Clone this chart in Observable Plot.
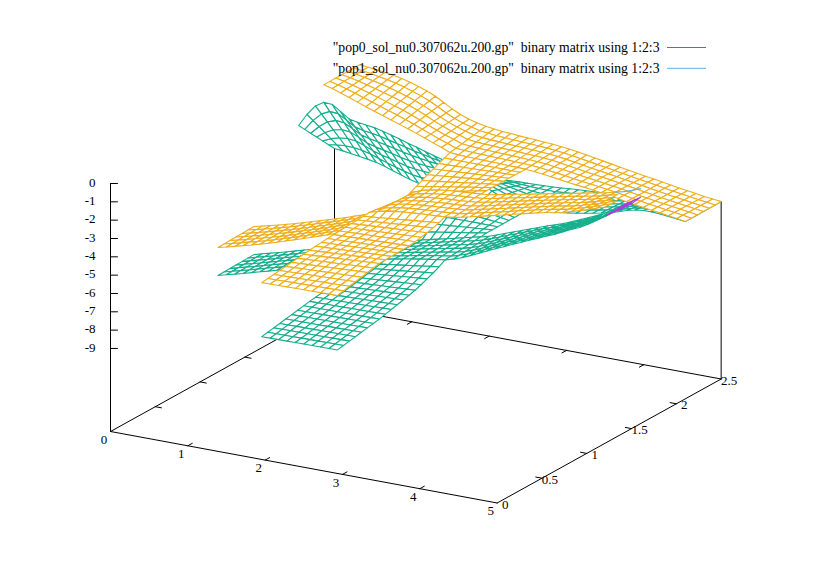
<!DOCTYPE html>
<html><head><meta charset="utf-8">
<style>html,body{margin:0;padding:0;background:#fff}svg text{white-space:pre}</style>
<script src="https://cdn.jsdelivr.net/npm/d3@7"></script>
<script src="https://cdn.jsdelivr.net/npm/@observablehq/plot@0.6"></script>
</head><body><div id="c"></div>
<script>
const legendLabels=['"pop0_sol_nu0.307062u.200.gp"  binary matrix using 1:2:3','"pop1_sol_nu0.307062u.200.gp"  binary matrix using 1:2:3'];
const xTicks=[0,1,2,3,4,5];
const yTicks=[0,0.5,1,1.5,2,2.5];
const zTicks=[0,-1,-2,-3,-4,-5,-6,-7,-8,-9];
const xStep=5/46;
const yNodes=[0,.0667,.1333,.2,.2667,.3333,.4,.4667,.5333,.6,.6667,.7333,.8,.8667,.9333,1,1.0667,1.1333,1.2,1.2667,1.3333,1.4,1.4667,1.5333,1.6,1.6625,1.725,1.7875,1.85,1.9125,1.975,2.0375,2.1,2.1667,2.2333,2.3,2.3667,2.4333,2.5];
// back band, y = 2.1 and y = 2.5 edges, one value per x node
const orangeBackNear=[null,null,null,-.04,-.16,-.32,-.48,-.65,-.82,-.98,-1.13,-1.28,-1.44,-1.59,-1.76,-1.93,-2.11,-2.28,-2.47,-2.51,-2.53,-2.54,-2.555,-2.56,-2.57,-2.59,-2.6,-2.62,-2.65,-2.71,-2.77,-2.83,-2.9,-2.96,-3.01,-3.07,-3.13,-3.2,-3.28,-3.37,-3.44,-3.51,-3.58,-3.64,-3.71,-3.78,-3.86];
const orangeBackFar=[null,null,null,-.03,-.08,-.13,-.2,-.27,-.36,-.48,-.63,-.79,-.99,-1.24,-1.51,-1.73,-1.9,-2.02,-2.12,-2.18,-2.23,-2.26,-2.3,-2.33,-2.36,-2.39,-2.42,-2.47,-2.52,-2.59,-2.67,-2.75,-2.83,-2.91,-2.99,-3.07,-3.15,-3.23,-3.3,-3.38,-3.46,-3.53,-3.6,-3.67,-3.74,-3.79,-3.85];
const greenBackNear=[-2.52,-1.82,-1.28,-1,-1.03,-1.34,-1.65,-1.75,-1.81,-1.87,-1.98,-2.11,-2.24,-2.38,-2.51,-2.65,-2.78,-2.92,-3.1,-3.3,-3.52,-3.73,-3.94,-4.15,-4.36,-4.57,-4.74,-4.87,-4.85,-4.78,-4.71,-4.64,-4.57,-4.51,-4.42,-4.34,-4.24,-4.14,-4,-3.85,-3.74,-3.68,-3.67,-3.7,-3.75,-3.8,-3.86];
const greenBackFar=[-4.86,-4.9,-4.97,-5.04,-5.11,-5.2,-5.33,-5.49,-5.64,-5.79,-5.91,-5.96,-5.96,-5.93,-5.86,-5.76,-5.65,-5.52,-5.38,-5.22,-5.03,-4.83,-4.81,-4.8,-4.79,-4.77,-4.75,-4.72,-4.68,-4.65,-4.62,-4.6,-4.55,-4.5,-4.45,-4.39,-4.34,-4.28,-4.23,-4.17,-4.11,-4.07,-4.02,-3.97,-3.93,-3.89,-3.85];
// middle band, y = 1.2 and y = 1.6 edges
const orangeMidNear=[-6.74,-6.63,-6.51,-6.38,-6.26,-6.13,-6,-5.86,-5.71,-5.56,-5.41,-5.26,-5.1,-4.95,-4.77,-4.53,-4.17,-3.72,-3.3,-3.16,-3.06,-2.99,-2.94,-2.9,-2.86,-2.83,-2.81,-2.77,-2.72,-2.63,-2.52,-2.41,-2.3,-2.19,-2.08,-1.96,-1.85,-1.74,-1.63,-1.52,-1.45,-1.35,-1.22,-1.08,-.94,-.78,-.63];
const orangeMidFar=[-6.68,-6.57,-6.45,-6.34,-6.21,-6.09,-5.95,-5.81,-5.67,-5.53,-5.39,-5.25,-5.09,-4.94,-4.79,-4.6,-4.38,-4.07,-3.6,-3.2,-3.01,-2.91,-2.82,-2.76,-2.72,-2.68,-2.65,-2.61,-2.57,-2.48,-2.39,-2.29,-2.2,-2.11,-2.01,-1.92,-1.82,-1.73,-1.64,-1.55,-1.45,-1.37,-1.27,-1.15,-1.04,-.89,-.71];
const greenMidNear=[-8.27,-8.14,-8.02,-7.9,-7.77,-7.64,-7.52,-7.39,-7.27,-7.14,-7.01,-6.87,-6.73,-6.59,-6.45,-6.31,-6.17,-6.04,-5.85,-5.75,-5.67,-5.59,-5.5,-5.42,-5.34,-5.26,-5.19,-5.13,-5,-4.84,-4.64,-4.43,-4.22,-4.01,-3.81,-3.6,-3.41,-3.21,-3.02,-2.82,-2.63,-2.41,-2.2,-2,-1.74,-1.38,-.96];
const greenMidFar=[-8.21,-8.08,-7.96,-7.84,-7.71,-7.58,-7.45,-7.32,-7.2,-7.08,-6.95,-6.82,-6.7,-6.57,-6.45,-6.32,-6.2,-6.07,-5.95,-5.84,-5.72,-5.61,-5.5,-5.39,-5.28,-5.17,-5.06,-4.95,-4.83,-4.67,-4.5,-4.33,-4.17,-4,-3.83,-3.67,-3.52,-3.36,-3.17,-2.97,-2.78,-2.58,-2.37,-2.15,-1.91,-1.6,-1.18];
// cross band x = 1.96 .. 2.93: front part (rows 0-18) and rear part (rows 24-32)
const orangeFrontL=[-3.88,-3.84,-3.8,-3.76,-3.72,-3.68,-3.64,-3.6,-3.56,-3.52,-3.49,-3.46,-3.43,-3.41,-3.39,-3.37,-3.35,-3.33,-3.3];
const orangeFrontR=[-3.82,-3.75,-3.68,-3.61,-3.54,-3.47,-3.4,-3.34,-3.32,-3.31,-3.3,-3.29,-3.28,-3.23,-3.17,-3.1,-3.02,-2.92,-2.75];
const greenFrontL=[-6.83,-6.77,-6.71,-6.65,-6.59,-6.53,-6.47,-6.41,-6.35,-6.3,-6.25,-6.2,-6.15,-6.1,-6.05,-6,-5.95,-5.9,-5.85];
const greenFrontR=[-6.79,-6.73,-6.67,-6.61,-6.55,-6.49,-6.43,-6.37,-6.29,-6.21,-6.13,-6.05,-5.97,-5.88,-5.76,-5.62,-5.48,-5.32,-5.1];
const orangeRearL=[-3.6,-3.45,-3.3,-3.15,-3,-2.86,-2.73,-2.6,-2.47];
const orangeRearR=[-2.6,-2.6,-2.6,-2.6,-2.6,-2.6,-2.6,-2.61,-2.62];
const greenRearL=[-5.95,-5.6,-5.25,-4.9,-4.55,-4.2,-3.85,-3.47,-3.1];
const greenRearR=[-4.91,-4.91,-4.91,-4.91,-4.91,-4.91,-4.91,-4.9,-4.9];

const GREEN="#14AE8C",ORANGE="#EDAE1A",PURPLE="#A83EDD",CYAN="#56B4E9";
const Z0=-13.53;
const sx=(x,y)=>110+77.33*x+89.6*y;
const sy=(x,y,z)=>431+14.3*x-49.6*y-(z-Z0)*18.33;
const crossI0=18,crossI1=27;

function cells(a){
  const m=new Map(),key=(i,j)=>i+","+j;
  const put=(i,j,z)=>{if(!m.has(key(i,j)))m.set(key(i,j),z)};
  const band=(lo,hi,j0,j1)=>{lo.forEach((v,i)=>{if(v==null)return;
    for(let j=j0;j<=j1;j++){const t=(yNodes[j]-yNodes[j0])/(yNodes[j1]-yNodes[j0]);put(i,j,v+(hi[i]-v)*t)}})};
  const cross=(l,r,j0)=>{l.forEach((v,k)=>{for(let i=crossI0;i<=crossI1;i++){
    put(i,j0+k,v+(r[k]-v)*(i-crossI0)/(crossI1-crossI0))}})};
  band(a.backNear,a.backFar,32,38);
  band(a.midNear,a.midFar,18,24);
  cross(a.frontL,a.frontR,0);
  cross(a.rearL,a.rearR,24);
  const out=[];
  for(let i=0;i<46;i++)for(let j=0;j<38;j++){
    const q=[[i,j],[i+1,j],[i+1,j+1],[i,j+1],[i,j]];
    if(!q.every(([a,b])=>m.has(key(a,b))))continue;
    const xm=(i+.5)*xStep,ym=(yNodes[j]+yNodes[j+1])/2;
    const pts=q.map(([a,b])=>({X:sx(a*xStep,yNodes[b]),Y:sy(a*xStep,yNodes[b],m.get(key(a,b)))}));
    out.push({id:i+"_"+j,i,j,depth:14.3*xm-49.6*ym,pts,cx:d3.mean(pts.slice(0,4),p=>p.X)});
  }
  out.sort((p,q)=>p.depth-q.depth);
  return out;
}
const flat=list=>list.flatMap(c=>c.pts.map(p=>({...p,id:c.id})));
const tipX=612;
const inTip=c=>c.j>=18&&c.j<24&&c.cx>tipX;

const G=cells({backNear:greenBackNear,backFar:greenBackFar,midNear:greenMidNear,midFar:greenMidFar,frontL:greenFrontL,frontR:greenFrontR,rearL:greenRearL,rearR:greenRearR});
const O=cells({backNear:orangeBackNear,backFar:orangeBackFar,midNear:orangeMidNear,midFar:orangeMidFar,frontL:orangeFrontL,frontR:orangeFrontR,rearL:orangeRearL,rearR:orangeRearR});
const cyanEdge=O.filter(c=>c.j===23&&c.cx>tipX-4).sort((a,b)=>a.i-b.i).flatMap(c=>[c.pts[3],c.pts[2]]);

const seg=(a,b)=>[{X:sx(a[0],a[1]),Y:sy(a[0],a[1],a[2])},{X:sx(b[0],b[1]),Y:sy(b[0],b[1],b[2])}];
const axisLines=[
 [[0,0,Z0],[5,0,Z0]],[[5,0,Z0],[5,2.5,Z0]],[[5,2.5,Z0],[0,2.5,Z0]],[[0,2.5,Z0],[0,0,Z0]],
 [[0,0,Z0],[0,0,0]],[[0,2.5,Z0],[0,2.5,greenBackFar[0]]],[[5,2.5,Z0],[5,2.5,orangeBackFar[46]]],
 ...xTicks.slice(1,5).flatMap(t=>[[[t,0,Z0],[t,.05,Z0]],[[t,2.5,Z0],[t,2.45,Z0]]]),
 ...yTicks.slice(1,5).flatMap(t=>[[[5,t,Z0],[4.92,t,Z0]],[[0,t,Z0],[.08,t,Z0]]])
].flatMap((s,k)=>seg(s[0],s[1]).map(p=>({...p,id:"a"+k})));
const zTickLines=zTicks.flatMap((t,k)=>[{X:sx(0,0),Y:sy(0,0,t),id:"z"+k},{X:sx(0,0)+7,Y:sy(0,0,t),id:"z"+k}]);
const tickFont={fontFamily:"Liberation Serif",fontSize:13,fill:"#000"};
const keyFont={fontFamily:"Liberation Serif",fontSize:13.7,fill:"#000"};
const xLabels=xTicks.map(t=>({t,X:sx(t,0)-6.5,Y:sy(t,0,Z0)+8}));
const yLabels=yTicks.map(t=>({t,X:sx(5,t)+8,Y:sy(5,t,Z0)+1.5}));
const zLabels=zTicks.map(t=>({t,X:95,Y:sy(0,0,t)-1}));
const legendRows=legendLabels.map((s,k)=>({s,Y:47+k*20.8}));

const meshLayer=(list,stroke,fill="#fff")=>Plot.line(flat(list),{x:"X",y:"Y",z:"id",stroke,fill,strokeWidth:1.1,curve:"linear"});
const chart=Plot.plot({
 width:830,height:583,margin:0,
 x:{domain:[0,830],range:[0,830],axis:null},
 y:{domain:[0,583],range:[0,583],axis:null},
 marks:[
  Plot.line(axisLines,{x:"X",y:"Y",z:"id",stroke:"#000",strokeWidth:1}),
  Plot.line(zTickLines,{x:"X",y:"Y",z:"id",stroke:"#000",strokeWidth:1}),
  meshLayer(G.filter(c=>!(inTip(c)&&c.j>=21)),GREEN),
  meshLayer(O.filter(c=>!inTip(c)),ORANGE),
  meshLayer(G.filter(c=>inTip(c)&&c.j>=21),PURPLE,"none"),
  Plot.line(cyanEdge,{x:"X",y:"Y",stroke:CYAN,strokeWidth:1.2}),
  Plot.text(xLabels,{x:"X",y:"Y",text:d=>String(d.t),...tickFont}),
  Plot.text(yLabels,{x:"X",y:"Y",text:d=>String(d.t),...tickFont}),
  Plot.text(zLabels,{x:"X",y:"Y",text:d=>String(d.t),textAnchor:"end",...tickFont}),
  Plot.text(legendRows,{x:659,y:"Y",text:"s",textAnchor:"end",...keyFont}),
  Plot.ruleY([legendRows[0]],{x1:667,x2:706,y:"Y",stroke:PURPLE,strokeWidth:1}),
  Plot.ruleY([legendRows[1]],{x1:667,x2:706,y:"Y",stroke:CYAN,strokeWidth:1})
 ]
});
document.getElementById("c").appendChild(chart);
</script></body></html>
